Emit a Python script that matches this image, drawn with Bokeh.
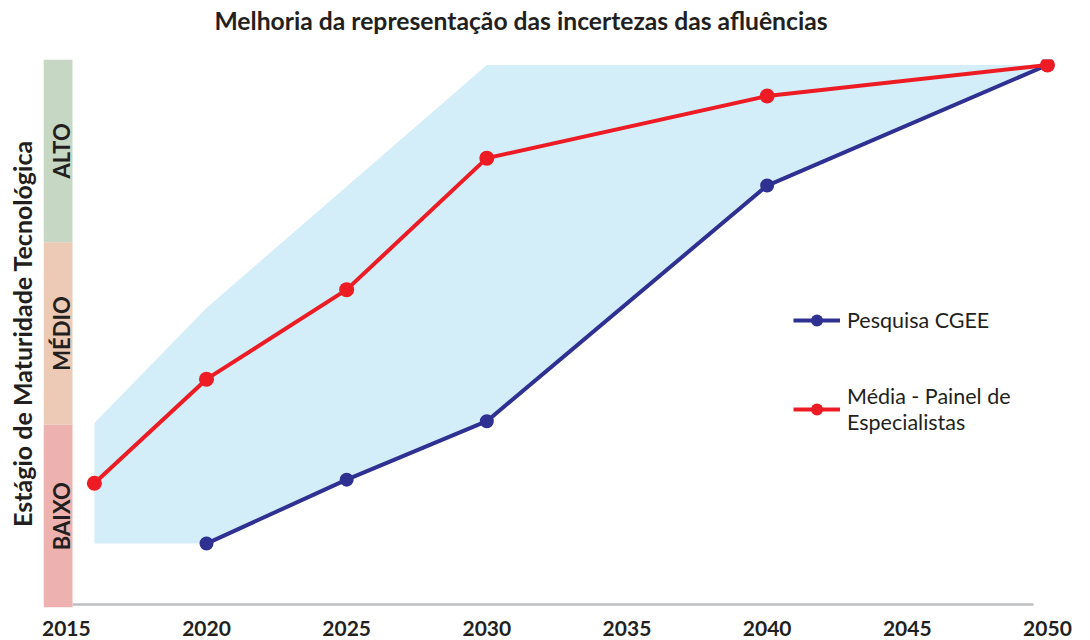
from bokeh.plotting import figure
from bokeh.models import Range1d, FixedTicker, Legend, LegendItem, LinearAxis
from bokeh.core.properties import value
from bokeh.embed import file_html
from bokeh.resources import INLINE

# ---- data ----
title_text = "Melhoria da representação das incertezas das afluências"
y_label = "Estágio de Maturidade Tecnológica"
tick_years = [2015, 2020, 2025, 2030, 2035, 2040, 2045, 2050]

level_names = ["BAIXO", "MÉDIO", "ALTO"]
level_bottom = [0, 1, 2]
level_top = [1, 2, 3]
level_colors = ["#edb2b0", "#eccab6", "#c6d8c4"]

red_years = [2016, 2020, 2025, 2030, 2040, 2050]
red_levels = [0.68, 1.25, 1.74, 2.46, 2.80, 2.97]
red_name = "Média - Painel de\nEspecialistas"

blue_years = [2020, 2025, 2030, 2040, 2050]
blue_levels = [0.35, 0.70, 1.02, 2.31, 2.97]
blue_name = "Pesquisa CGEE"

band_upper_years = [2016, 2020, 2030, 2050]
band_upper_levels = [1.01, 1.64, 2.97, 2.97]
band_lower_years = [2016, 2020, 2025, 2030, 2040, 2050]
band_lower_levels = [0.35, 0.35, 0.70, 1.02, 2.31, 2.97]

# ---- figure ----
X0, X1 = 2014.185, 2051.25
BAND_RIGHT = 2015.22
AXIS_END = 2049.5

p = figure(width=1090, height=640, x_range=Range1d(X0, X1), y_range=Range1d(0, 3),
           output_backend="svg", toolbar_location=None,
           min_border_left=43, min_border_right=8, min_border_top=59, min_border_bottom=33)
p.grid.visible = False
p.outline_line_color = None
p.title.visible = False

TXT = "#231f20"
FONT = "Lato"

# bottom axis (years)
xb = p.below[0]
xb.ticker = FixedTicker(ticks=tick_years)
xb.axis_line_color = None
xb.major_tick_line_color = None
xb.minor_tick_line_color = None
xb.major_label_standoff = 7
xb.major_label_text_font = FONT
xb.major_label_text_font_size = "21px"
xb.major_label_text_font_style = "bold"
xb.major_label_text_color = TXT

# title drawn as the label of an empty top axis (trailing no-break spaces shift it left)
top_axis = LinearAxis(ticker=FixedTicker(ticks=[]),
                      axis_line_color=None, major_tick_line_color=None, minor_tick_line_color=None,
                      major_tick_out=0, major_tick_in=0,
                      axis_label=title_text + "\u00a0" * 14, axis_label_text_font=FONT,
                      axis_label_text_font_size="24.7px", axis_label_text_font_style="bold",
                      axis_label_text_color=TXT, axis_label_standoff=25)
p.add_layout(top_axis, "above")

# maturity bands
p.quad(left=[X0] * 3, right=[BAND_RIGHT] * 3, bottom=level_bottom, top=level_top,
       fill_color=level_colors, line_color=None)
p.text(x=[(X0 + BAND_RIGHT) / 2 + 0.12] * 3, y=[(b + t) / 2 for b, t in zip(level_bottom, level_top)],
       text=level_names, angle=1.5708, text_align="center", text_baseline="middle",
       text_font=value(FONT), text_font_size="22px", text_font_style="bold", text_color=TXT)

# uncertainty band
px = band_upper_years + band_lower_years[::-1]
py = band_upper_levels + band_lower_levels[::-1]
p.patch(px, py, fill_color="#d3edf9", line_color=None)

# axis baseline
p.segment(x0=[BAND_RIGHT], x1=[AXIS_END], y0=[0.016], y1=[0.016], line_color="#bdbec0", line_width=2.5)

# series
bl = p.line(blue_years, blue_levels, line_color="#2e3192", line_width=4)
bs = p.scatter(blue_years, blue_levels, size=14, fill_color="#2e3192", line_color=None)
rl = p.line(red_years, red_levels, line_color="#ed1c24", line_width=4)
rs = p.scatter(red_years, red_levels, size=15, fill_color="#ed1c24", line_color=None)

legend = Legend(items=[LegendItem(label=blue_name, renderers=[bl, bs]),
                       LegendItem(label=red_name, renderers=[rl, rs])],
                location=(750, 172), glyph_width=47, glyph_height=30, label_height=24,
                label_text_font=FONT, label_text_font_size="21.5px", label_text_color=TXT,
                label_text_line_height=1.7,
                label_standoff=7, spacing=48, padding=0, margin=0,
                border_line_color=None, background_fill_alpha=0)
p.add_layout(legend)

# left axis (label only)
yl = p.left[0]
yl.ticker = FixedTicker(ticks=[])
yl.axis_line_color = None
yl.major_tick_line_color = None
yl.minor_tick_line_color = None
yl.axis_label = y_label
yl.axis_label_text_font = FONT
yl.axis_label_text_font_size = "25px"
yl.axis_label_text_font_style = "bold"
yl.axis_label_text_color = TXT
yl.axis_label_standoff = 7

open("out.html", "w").write(file_html(p, INLINE))
